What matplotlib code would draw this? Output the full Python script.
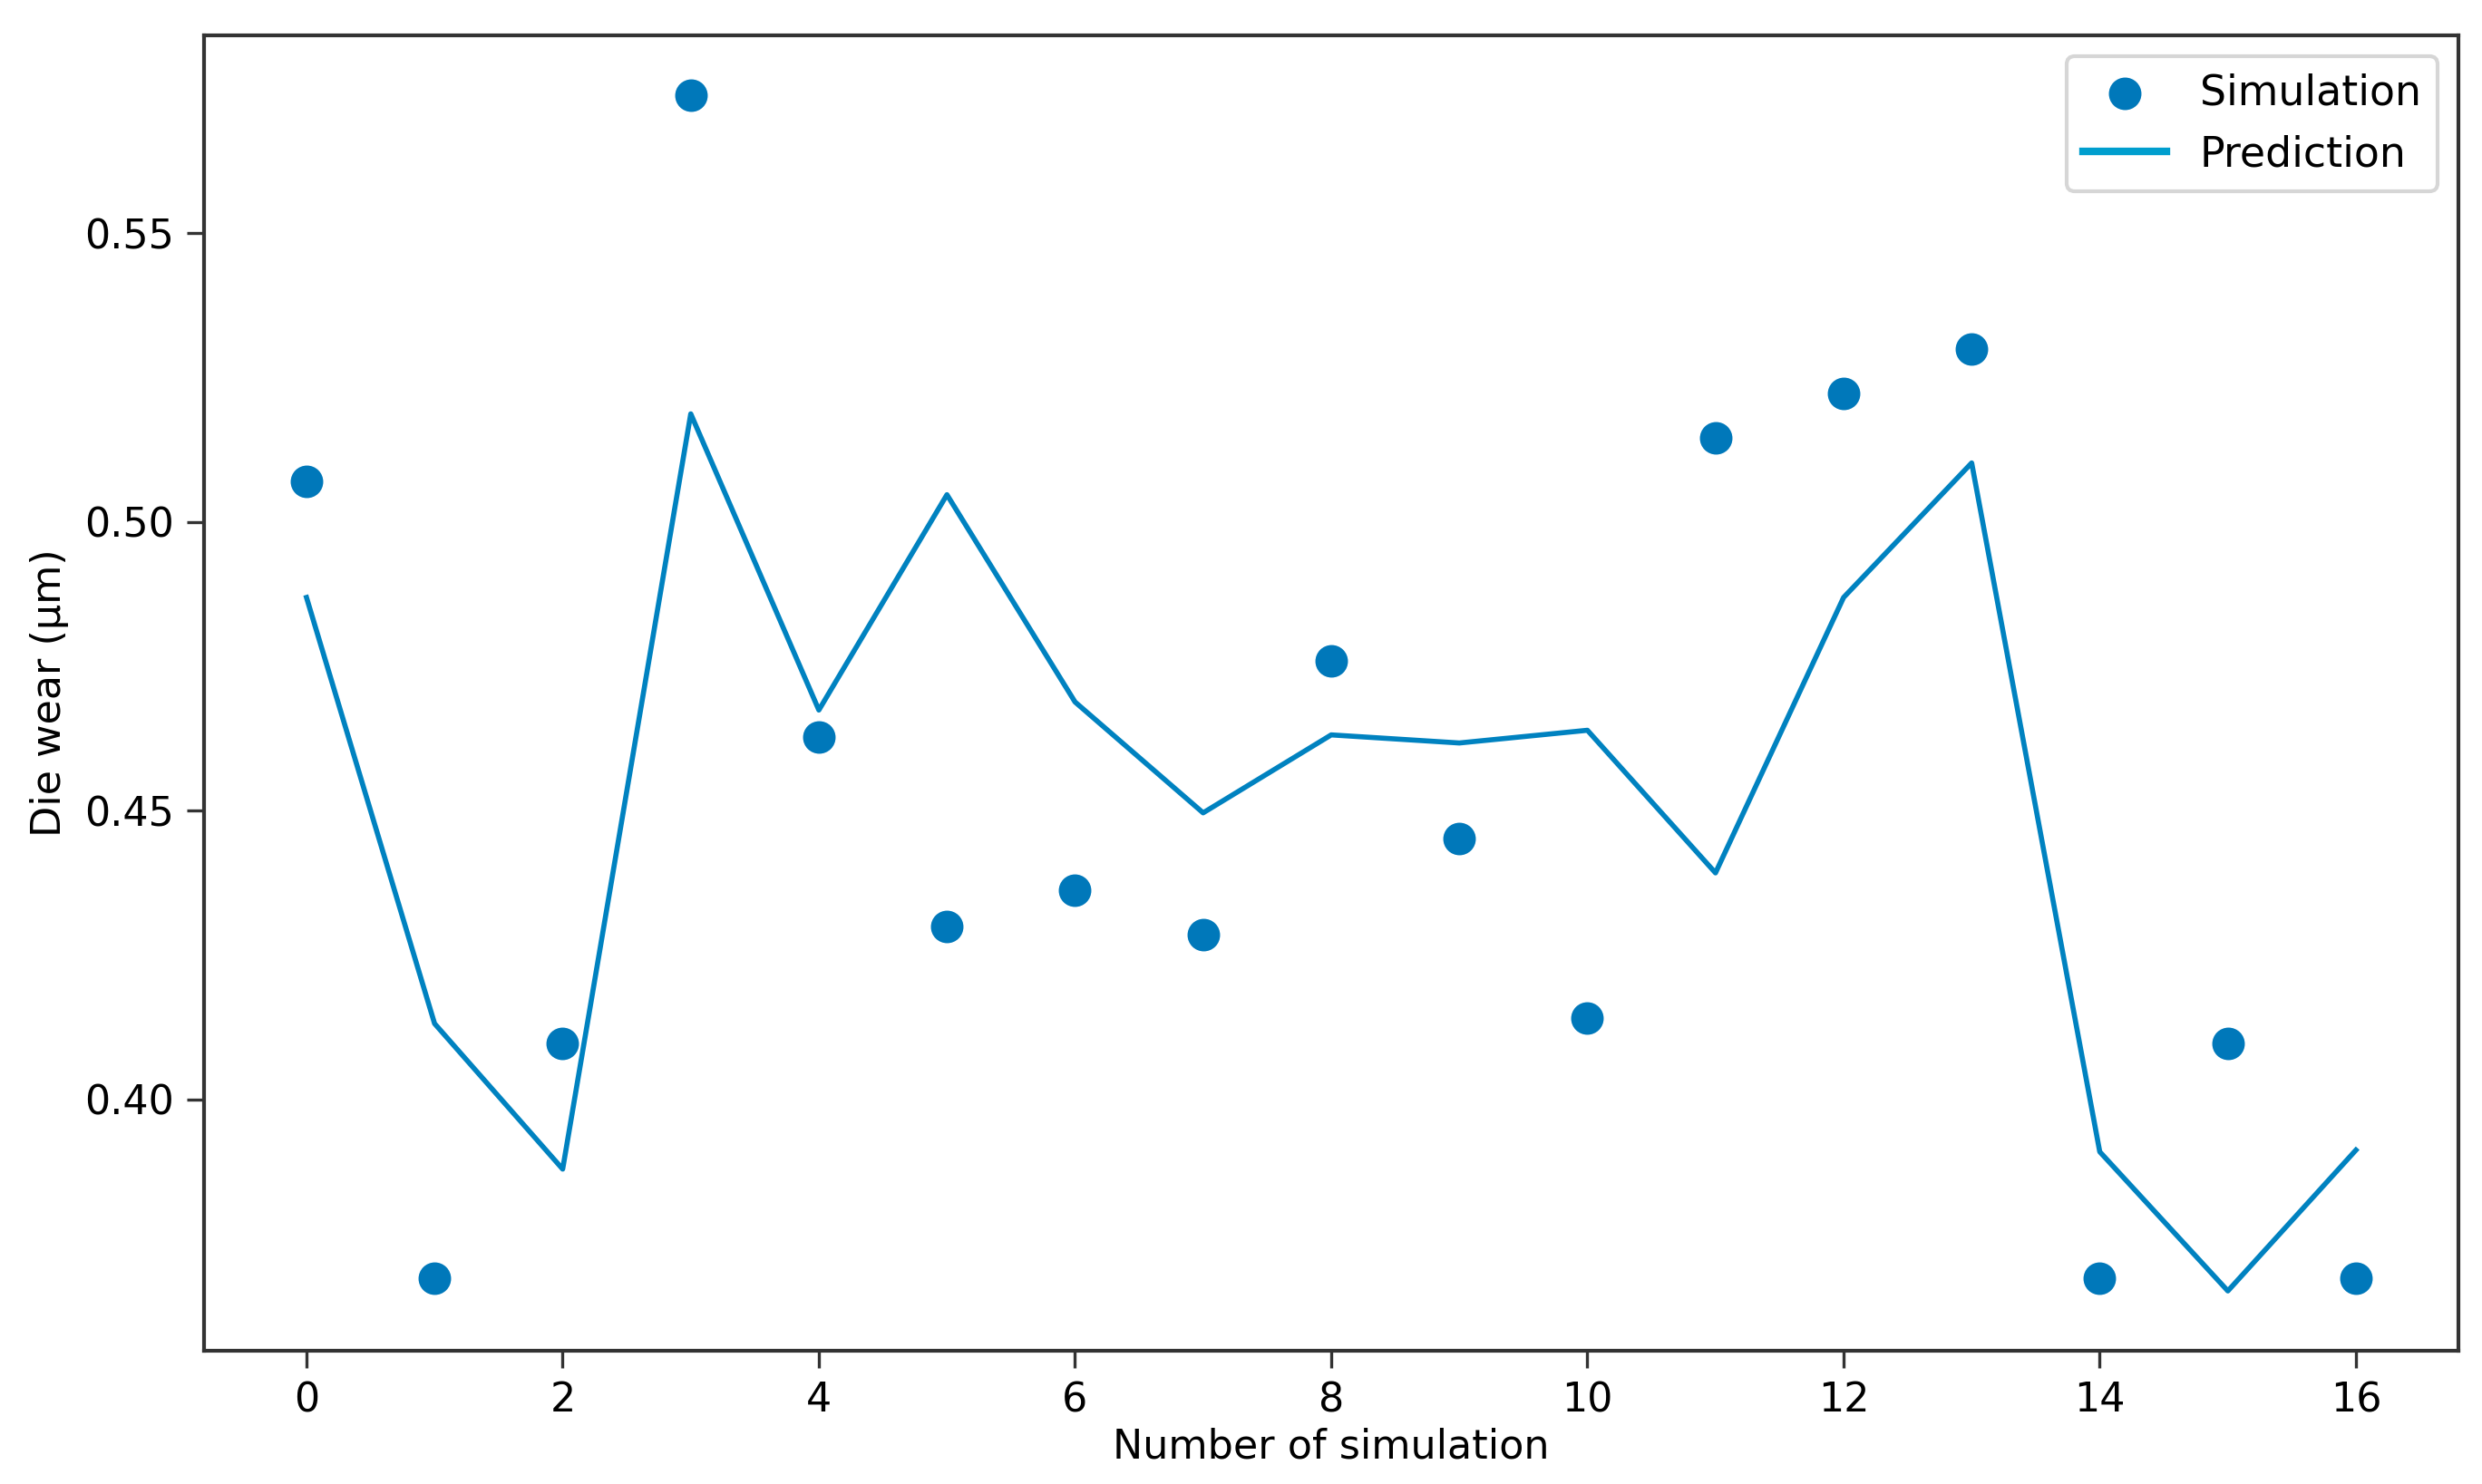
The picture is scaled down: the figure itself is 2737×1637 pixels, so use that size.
import matplotlib
matplotlib.use("Agg")
import matplotlib.pyplot as plt

plt.rcParams['font.family'] = ['DejaVu Sans']

sim_idx = list(range(17))
simulation = [0.507, 0.369, 0.4096, 0.5739, 0.4628, 0.4299, 0.4362, 0.4285, 0.4759,
              0.4452, 0.4140, 0.5146, 0.5223, 0.5300, 0.369, 0.4096, 0.369]
prediction = [0.4869, 0.4131, 0.3879, 0.5187, 0.4674, 0.5047, 0.4688, 0.4496, 0.4631,
              0.4617, 0.4639, 0.4392, 0.4869, 0.5102, 0.3909, 0.3668, 0.3912]

fig = plt.figure(figsize=(2737 / 300, 1637 / 300), dpi=300)
ax = fig.add_axes([0.0822, 0.0898, 0.9083, 0.8864])

ax.scatter(sim_idx, simulation, s=58, color='#0078BA', label='Simulation', zorder=3)
ax.plot(sim_idx, prediction, color='#0082C0', linewidth=1.35, label='Prediction')

ax.set_xticks(range(0, 17, 2))
ax.set_yticks([0.40, 0.45, 0.50, 0.55])
ax.set_xlabel('Number of simulation', fontsize=10.7, labelpad=2)
ax.set_ylabel('Die wear (µm)', fontsize=10.7)
ax.tick_params(labelsize=10.7, length=4.5, width=0.8, color='#333333')
for sp in ax.spines.values():
    sp.set_color('#333333')
    sp.set_linewidth(1.0)

leg = ax.legend(loc='upper right', fontsize=11, frameon=True)
leg.get_lines()[0].set_linewidth(2.0)
leg.get_lines()[0].set_color('#009ECE')

fig.savefig('out.png', dpi=300)
